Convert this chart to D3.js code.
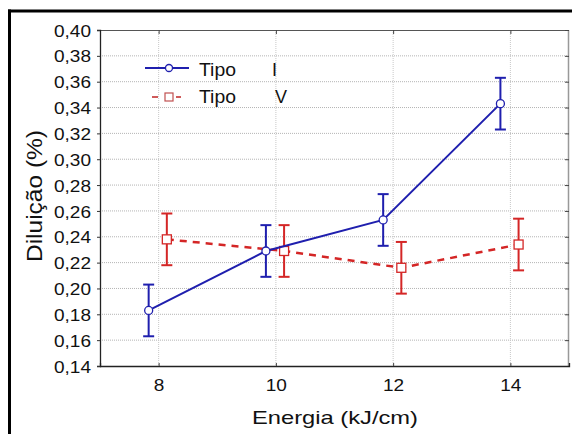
<!DOCTYPE html>
<html>
<head>
<meta charset="utf-8">
<script src="https://cdn.jsdelivr.net/npm/d3@7"></script>
<style>
  html, body { margin: 0; padding: 0; background: #fff; }
  svg { display: block; }
  text { font-family: "Liberation Sans", Arial, sans-serif; fill: #111; }
</style>
</head>
<body>
<svg id="chart" width="572" height="434"></svg>
<script>
// ---- data ----
const categories = [8, 10, 12, 14];
const yTicks = [0.14, 0.16, 0.18, 0.20, 0.22, 0.24, 0.26, 0.28, 0.30, 0.32, 0.34, 0.36, 0.38, 0.40];
const tipoI = [0.183, 0.229, 0.253, 0.343];
const tipoIErr = [0.020, 0.020, 0.020, 0.020];
const tipoV = [0.238, 0.229, 0.216, 0.234];
const tipoVErr = [0.020, 0.020, 0.020, 0.020];
const seriesNames = ["Tipo", "Tipo"];
const seriesSuffix = ["I", "V"];
const xTitle = "Energia (kJ/cm)";
const yTitle = "Diluição (%)";

// ---- layout ----
const svg = d3.select("#chart");
const L = 100, R = 569, T = 30, B = 366;
const x = d3.scaleLinear().domain([7, 15]).range([L, R]);
const y = d3.scaleLinear().domain([0.14, 0.40]).range([B, T]);
const fmt = v => v.toFixed(2).replace(".", ",");
const blue = "#1f1fae", red = "#d42626";
const dodgeI = -0.17, dodgeV = 0.14;

// outer frame (top and left thick black)
svg.append("line").attr("x1", 8).attr("x2", 572).attr("y1", 11).attr("y2", 11)
  .attr("stroke", "#000").attr("stroke-width", 3);
svg.append("line").attr("x1", 9.5).attr("x2", 9.5).attr("y1", 9.5).attr("y2", 434)
  .attr("stroke", "#000").attr("stroke-width", 3);

// gridlines
const grid = svg.append("g");
yTicks.slice(1, -1).forEach(t => {
  grid.append("line").attr("x1", L).attr("x2", R).attr("y1", y(t)).attr("y2", y(t))
    .attr("stroke", "#b4b4b4").attr("stroke-width", 1).attr("stroke-dasharray", "1,1");
});
categories.forEach(c => {
  grid.append("line").attr("x1", x(c)).attr("x2", x(c)).attr("y1", T).attr("y2", B)
    .attr("stroke", "#c8c8c8").attr("stroke-width", 1).attr("stroke-dasharray", "1,1");
});

// plot frame
svg.append("line").attr("x1", L).attr("x2", R).attr("y1", T + 0.5).attr("y2", T + 0.5).attr("stroke", "#555");
svg.append("line").attr("x1", R - 0.5).attr("x2", R - 0.5).attr("y1", T).attr("y2", B).attr("stroke", "#999").attr("stroke-width", 1.5);

// axes
const yAxis = d3.axisLeft(y).tickValues(yTicks).tickFormat(fmt).tickSize(3).tickPadding(6);
const gy = svg.append("g").attr("transform", `translate(${L},0)`).call(yAxis);
gy.select(".domain").attr("stroke", "#222").attr("stroke-width", 1.3);
gy.selectAll(".tick line").attr("stroke", "#333");
gy.selectAll(".tick text").attr("font-size", 17).attr("fill", "#111")
  .attr("font-family", "Liberation Sans, Arial, sans-serif")
  .attr("dy", "0.36em")
  .attr("transform", function () {
    const tx = +d3.select(this).attr("x");
    return `translate(${tx},0) scale(1.12,1) translate(${-tx},0)`;
  });

const yAxisR = d3.axisLeft(y).tickValues(yTicks).tickFormat("").tickSize(4);
const gyr = svg.append("g").attr("transform", `translate(${R},0)`).call(yAxisR);
gyr.select(".domain").remove();
gyr.selectAll(".tick line").attr("stroke", "#444");

const xAxis = d3.axisBottom(x).tickValues(categories).tickFormat(d3.format("d")).tickSize(-3).tickPadding(13);
const gx = svg.append("g").attr("transform", `translate(0,${B})`).call(xAxis);
gx.select(".domain").attr("stroke", "#222").attr("stroke-width", 1.3);
gx.selectAll(".tick line").attr("stroke", "#444");
gx.selectAll(".tick text").attr("font-size", 17).attr("fill", "#111")
  .attr("font-family", "Liberation Sans, Arial, sans-serif")
  .attr("transform", "scale(1.12,1)");

const xAxisT = d3.axisTop(x).tickValues(categories).tickFormat("").tickSize(-4);
const gxt = svg.append("g").attr("transform", `translate(0,${T})`).call(xAxisT);
gxt.select(".domain").remove();
gxt.selectAll(".tick line").attr("stroke", "#444");

// axis titles
svg.append("text").attr("x", 335).attr("y", 424).attr("text-anchor", "middle")
  .attr("font-size", 19).attr("textLength", 166).attr("lengthAdjust", "spacingAndGlyphs")
  .text(xTitle);
svg.append("text").attr("transform", `translate(42,196) rotate(-90)`).attr("text-anchor", "middle")
  .attr("font-size", 22).attr("textLength", 132).attr("lengthAdjust", "spacingAndGlyphs")
  .text(yTitle);

// series
function drawSeries(vals, errs, dodge, color, dashed, marker) {
  const pts = categories.map((c, i) => ({ c: c + dodge, v: vals[i], e: errs[i] }));
  const g = svg.append("g");
  g.append("path").datum(pts)
    .attr("d", d3.line().x(d => x(d.c)).y(d => y(d.v)))
    .attr("fill", "none").attr("stroke", color)
    .attr("stroke-width", dashed ? 2.5 : 2)
    .attr("stroke-dasharray", dashed ? "7,6" : null);
  pts.forEach(d => {
    const cx = x(d.c);
    g.append("line").attr("x1", cx).attr("x2", cx).attr("y1", y(d.v + d.e)).attr("y2", y(d.v - d.e))
      .attr("stroke", color).attr("stroke-width", 2);
    [d.v + d.e, d.v - d.e].forEach(v => {
      g.append("line").attr("x1", cx - 5.5).attr("x2", cx + 5.5).attr("y1", y(v)).attr("y2", y(v))
        .attr("stroke", color).attr("stroke-width", 2);
    });
    if (marker === "circle") {
      g.append("circle").attr("cx", cx).attr("cy", y(d.v)).attr("r", 4)
        .attr("fill", "#fff").attr("stroke", color).attr("stroke-width", 1.3);
    } else {
      g.append("rect").attr("x", cx - 4.5).attr("y", y(d.v) - 4.5).attr("width", 9).attr("height", 9)
        .attr("fill", "#fff").attr("stroke", color).attr("stroke-width", 1.3);
    }
  });
}
drawSeries(tipoV, tipoVErr, dodgeV, red, true, "rect");
drawSeries(tipoI, tipoIErr, dodgeI, blue, false, "circle");

// legend
const lg = svg.append("g");
lg.append("line").attr("x1", 145).attr("x2", 189).attr("y1", 68).attr("y2", 68).attr("stroke", blue).attr("stroke-width", 2);
lg.append("circle").attr("cx", 169).attr("cy", 68).attr("r", 3.5).attr("fill", "#fff").attr("stroke", blue).attr("stroke-width", 1.3);
lg.append("line").attr("x1", 152).attr("x2", 181).attr("y1", 97).attr("y2", 97).attr("stroke", "#cf5a5a")
  .attr("stroke-width", 2).attr("stroke-dasharray", "6,18");
lg.append("rect").attr("x", 165).attr("y", 93).attr("width", 8).attr("height", 8).attr("fill", "#fff").attr("stroke", "#c05050").attr("stroke-width", 1.2);
[76, 103].forEach((by, i) => {
  lg.append("text").attr("x", 199).attr("y", by).attr("font-size", 18)
    .attr("textLength", 37).attr("lengthAdjust", "spacingAndGlyphs").text(seriesNames[i]);
  lg.append("text").attr("x", i === 0 ? 272 : 275).attr("y", by).attr("font-size", 18).text(seriesSuffix[i]);
});
</script>
</body>
</html>
